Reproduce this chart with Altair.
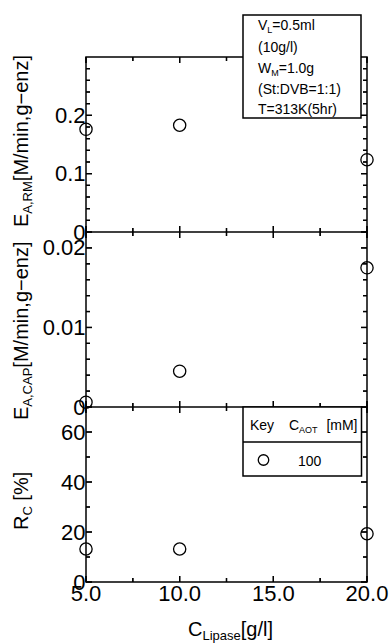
import altair as alt
import pandas as pd

# ---------------- data ----------------
c_lipase = [5.0, 10.0, 20.0]
e_rm = [0.176, 0.183, 0.124]
e_cap = [0.0006, 0.0045, 0.0175]
r_c = [13.2, 13.2, 19.3]

x_domain = [5, 20]
x_major = [5, 10, 15, 20]
x_minor = [7.5, 12.5, 17.5]
x_tick_labels = ["5.0", "10.0", "15.0", "20.0"]

p1_domain = [0, 0.3]
p1_major = [0, 0.1, 0.2]
p1_minor = [0.02, 0.04, 0.06, 0.08, 0.12, 0.14, 0.16, 0.18, 0.22, 0.24, 0.26, 0.28]
p2_domain = [0, 0.022]
p2_major = [0, 0.01, 0.02]
p2_minor = [0.002, 0.004, 0.006, 0.008, 0.012, 0.014, 0.016, 0.018]
p3_domain = [0, 70]
p3_major = [0, 20, 40, 60]
p3_minor = [10, 30, 50]

y_title_1 = ["E", "A,RM", "[M/min,g\u2212enz]"]
y_title_2 = ["E", "A,CAP", "[M/min,g\u2212enz]"]
y_title_3 = ["R", "C", "[%]"]
x_title = ["C", "Lipase", "[g/l]"]
info_lines = [["V", "L", "=0.5ml"], ["(10g/l)"], ["W", "M", "=1.0g"], ["(St:DVB=1:1)"], ["T=313K(5hr)"]]
key_header = ["Key", "C", "AOT", "[mM]"]
key_value = ["100"]

# ---------------- layout ----------------
FONT = "Liberation Sans"
W, PH = 281, 175
H = 3 * PH
LAB = 22
MAJ, MIN = 6, 4
ADV = {"E": .667, "A": .667, ",": .278, "R": .722, "M": .833, "C": .722, "P": .667,
       "L": .556, "i": .222, "p": .556, "a": .556, "s": .5, "e": .556, "V": .667,
       "W": .944, "O": .778, "T": .611, " ": .278}
# tick glyphs: a unit stroke from the anchor, pointing into the panel
TICK_PATH = {"right": "M0,0L1,0", "left": "M0,0L-1,0", "down": "M0,0L0,1", "up": "M0,0L0,-1"}


def adv(t):
    return sum(ADV.get(ch, .556) for ch in t)


XS = alt.Scale(domain=x_domain, nice=False, zero=False)


def ys(domain, idx):
    top = idx * PH
    return alt.Scale(domain=domain, range=[top + PH, top], nice=False, zero=False)


def points(vals, domain, idx, labels):
    df = pd.DataFrame({"x": c_lipase, "y": vals})
    return alt.Chart(df).mark_point(shape="circle", filled=False, color="black",
                                    size=150, strokeWidth=1.3, opacity=1).encode(
        x=alt.X("x:Q", scale=XS, axis=None),
        y=alt.Y("y:Q", scale=ys(domain, idx),
                axis=alt.Axis(orient="left", values=labels, format="~r", ticks=False,
                              domain=False, grid=False, labelFontSize=LAB, labelPadding=1,
                              labelFlush=False, labelOverlap=False, labelBound=False,
                              labelFont=FONT, labelColor="black", title=None)),
    )


def tick_glyphs(xs, yvals, domain, idx, length, direction, tag):
    # each tick drawn as a stroked symbol anchored on the frame edge (x and y via scales)
    n = max(len(xs), len(yvals))
    xs = xs if len(xs) == n else xs * n
    yvals = yvals if len(yvals) == n else yvals * n
    df = pd.DataFrame({"tx": xs, "ty": yvals, "tag": [tag] * n})
    return alt.Chart(df).mark_point(shape=TICK_PATH[direction], filled=False,
                                    color="black", strokeWidth=1.3, opacity=1,
                                    size=(2 * length) ** 2).encode(
        x=alt.X("tx:Q", scale=XS, axis=None),
        y=alt.Y("ty:Q", scale=ys(domain, idx), axis=None),
    )


def yrules(vals, domain, idx, x1, x2, tag):
    df = pd.DataFrame({"tv": vals, "tag": [tag] * len(vals)})
    return alt.Chart(df).mark_rule(color="black", strokeWidth=1.3).encode(
        y=alt.Y("tv:Q", scale=ys(domain, idx), axis=None),
        x=alt.value(x1), x2=alt.value(x2))


def xrules(vals, y1, y2, tag):
    df = pd.DataFrame({"tv": vals, "tag": [tag] * len(vals)})
    return alt.Chart(df).mark_rule(color="black", strokeWidth=1.3).encode(
        x=alt.X("tv:Q", scale=XS, axis=None),
        y=alt.value(y1), y2=alt.value(y2))


def divider(domain, idx):
    df = pd.DataFrame({"v": [domain[0]], "tag": ["div%d" % idx]})
    return alt.Chart(df).mark_rule(color="black", strokeWidth=1.5).encode(
        y=alt.Y("v:Q", scale=ys(domain, idx), axis=None))


def txt(t, x, y, size, angle=0, align="left"):
    return alt.Chart(pd.DataFrame({"t": [t]})).mark_text(
        align=align, baseline="alphabetic", angle=angle, font=FONT, fontSize=size,
        color="black").encode(x=alt.value(x), y=alt.value(y), text="t:N")


def rich(pieces, sizes, shifts, x0, y0, angle=0, gaps=None):
    out = []
    off = 0.0
    gaps = gaps or [0] * len(pieces)
    for p, s, sh, g in zip(pieces, sizes, shifts, gaps):
        off += g
        if angle == 0:
            out.append(txt(p, x0 + off, y0 + sh, s))
        else:
            out.append(txt(p, x0 + sh, y0 - off, s, angle=angle))
        off += adv(p) * s
    return out


def box(x1, x2, y1, y2, fill="white"):
    return alt.Chart(pd.DataFrame({"b": [0]})).mark_rect(
        fill=fill, stroke="black", strokeWidth=1.5).encode(
        x=alt.value(x1), x2=alt.value(x2), y=alt.value(y1), y2=alt.value(y2))


panels = [(e_rm, p1_domain, p1_major, p1_minor),
          (e_cap, p2_domain, p2_major, p2_minor),
          (r_c, p3_domain, p3_major, p3_minor)]

layers = [box(0, W, 0, H, fill="transparent")]
for idx, (vals, dom, maj, mnr) in enumerate(panels):
    top, bot = idx * PH, (idx + 1) * PH
    p = "p%d" % idx
    layers += [
        tick_glyphs([x_domain[0]], maj, dom, idx, MAJ, "right", p + "lM"),
        tick_glyphs([x_domain[0]], mnr, dom, idx, MIN, "right", p + "lm"),
        tick_glyphs([x_domain[1]], maj, dom, idx, MAJ, "left", p + "rM"),
        tick_glyphs([x_domain[1]], mnr, dom, idx, MIN, "left", p + "rm"),
        tick_glyphs(x_major, [dom[1]], dom, idx, MAJ, "down", p + "tM"),
        tick_glyphs(x_minor, [dom[1]], dom, idx, MIN, "down", p + "tm"),
        tick_glyphs(x_major, [dom[0]], dom, idx, MAJ, "up", p + "bM"),
        tick_glyphs(x_minor, [dom[0]], dom, idx, MIN, "up", p + "bm"),
        yrules(maj, dom, idx, 0, MAJ, p + "RlM"), yrules(mnr, dom, idx, 0, MIN, p + "Rlm"),
        yrules(maj, dom, idx, W - MAJ, W, p + "RrM"), yrules(mnr, dom, idx, W - MIN, W, p + "Rrm"),
        xrules(x_major, top, top + MAJ, p + "RtM"), xrules(x_minor, top, top + MIN, p + "Rtm"),
        xrules(x_major, bot - MAJ, bot, p + "RbM"), xrules(x_minor, bot - MIN, bot, p + "Rbm"),
    ]
    if idx < 2:
        layers.append(divider(dom, idx))

layers += [points(e_rm, p1_domain, 0, p1_major), points(e_cap, p2_domain, 1, p2_major),
           points(r_c, p3_domain, 2, p3_major)]

# x tick labels through the x scale
layers.append(alt.Chart(pd.DataFrame({"v": x_major, "t": x_tick_labels})).mark_text(
    align="center", baseline="alphabetic", font=FONT, fontSize=LAB, color="black").encode(
    x=alt.X("v:Q", scale=XS, axis=None), y=alt.value(543.5), text="t:N"))

# info box (panel 1)
layers.append(box(157, 275, -42, 61))
ix = 172
layers += rich(info_lines[0], [14, 9, 14], [0, 3, 0], ix, -27)
layers.append(txt(info_lines[1][0], ix, -5.5, 14))
layers += rich(info_lines[2], [14, 9, 14], [0, 3, 0], ix, 16)
layers.append(txt(info_lines[3][0], ix, 37, 14))
layers.append(txt(info_lines[4][0], ix, 56.5, 14))

# key box (panel 3)
layers.append(box(157, 275.5, 350, 419))
layers.append(alt.Chart(pd.DataFrame({"v": [0]})).mark_rule(color="black", strokeWidth=1.5).encode(
    x=alt.value(157), x2=alt.value(275.5), y=alt.value(385)))
layers.append(txt(key_header[0], 164, 373, 14))
layers += rich(key_header[1:3], [14, 9], [0, 3], 203, 373)
layers.append(txt(key_header[3], 271.5, 373, 14, align="right"))
layers.append(alt.Chart(pd.DataFrame({"k": key_value})).mark_point(
    shape="circle", filled=False, color="black", size=110, strokeWidth=1.3, opacity=1).encode(
    x=alt.value(177.5), y=alt.value(403)))
layers.append(txt(key_value[0], 212, 408.5, 14))

# axis titles
layers += rich(y_title_1, [20, 13, 20], [0, 4, 0], -58, 170, angle=270)
layers += rich(y_title_2, [20, 13, 20], [0, 4, 0], -58, 363, angle=270)
layers += rich(y_title_3, [20, 13, 20], [0, 4, 0], -58, 473, angle=270, gaps=[0, 0, 5.5])
layers += rich(x_title, [20, 13, 20], [0, 4, 0], 102, 579)

chart = alt.layer(*layers).resolve_scale(y="independent").properties(
    width=W, height=H,
    autosize=alt.AutoSizeParams(type="none"),
    padding={"left": 86, "top": 57, "right": 23, "bottom": 61},
).configure_view(strokeWidth=0)

chart.save("out.html", embed_options={"renderer": "svg", "actions": False})
